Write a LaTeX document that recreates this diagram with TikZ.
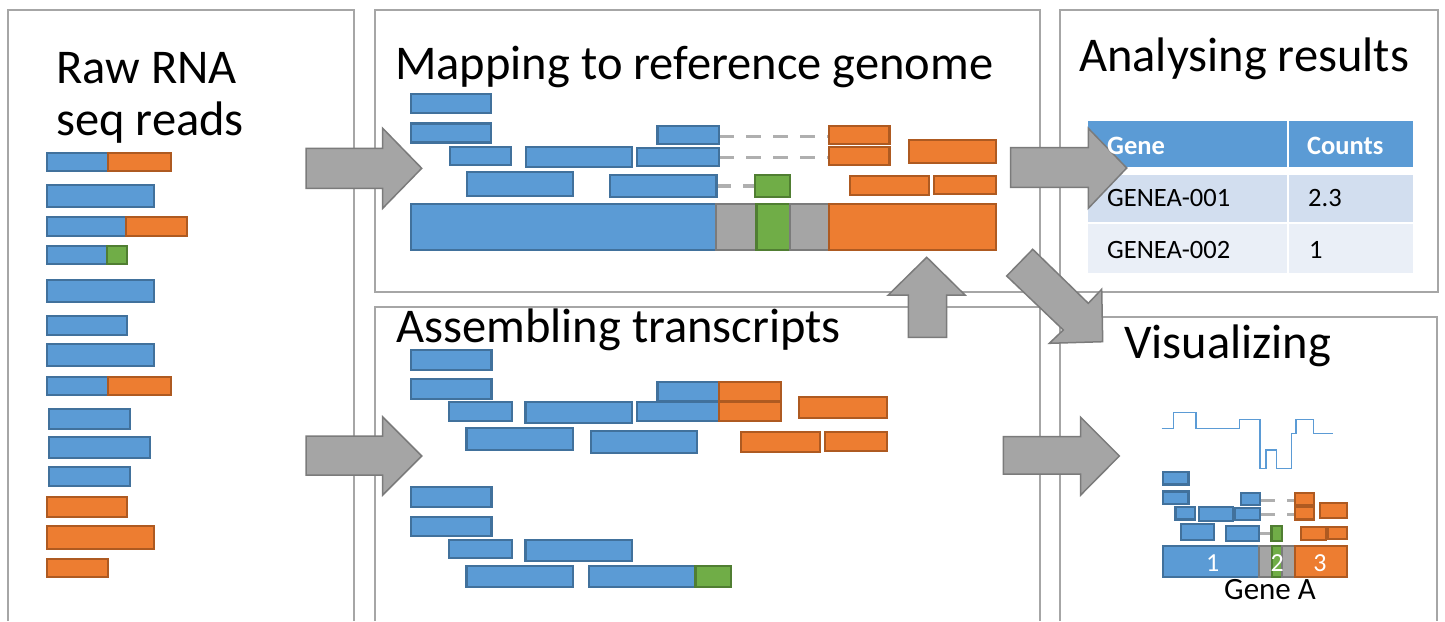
\documentclass[tikz,border=0pt]{standalone}
\usepackage{fontspec}
\setmainfont{Carlito}
\definecolor{cblue}{HTML}{5B9BD5}
\definecolor{cblueD}{HTML}{41719C}
\definecolor{corange}{HTML}{ED7D31}
\definecolor{corangeD}{HTML}{AE5A21}
\definecolor{cgreen}{HTML}{70AD47}
\definecolor{cgreenD}{HTML}{507E32}
\definecolor{cgrey}{HTML}{A5A5A5}
\definecolor{cgreyD}{HTML}{7B7B7B}
\definecolor{panelc}{HTML}{A6A6A6}
\definecolor{rowA}{HTML}{D2DEEF}
\definecolor{rowB}{HTML}{EAEFF7}
\definecolor{dashc}{HTML}{AFAFAF}
\tikzset{
 rb/.style={fill=cblue,draw=cblueD,line width=2.2pt},
 ro/.style={fill=corange,draw=corangeD,line width=2.2pt},
 rg/.style={fill=cgreen,draw=cgreenD,line width=2.2pt},
 rgr/.style={fill=cgrey,draw=cgreyD,line width=2.2pt},
 panel/.style={draw=panelc,line width=2.2pt},
 bigarrow/.style={fill=cgrey,draw=cgreyD,line width=1.5pt,line join=miter},
 gapline/.style={draw=dashc,line width=3.5pt,dash pattern=on 15pt off 12pt},
 head/.style={font=\fontsize{48.5}{58}\selectfont,inner sep=0pt,anchor=base west},
 cell/.style={font=\fontsize{26.5}{31}\selectfont,inner sep=0pt,anchor=base west},
 num/.style={font=\fontsize{26}{30}\selectfont,text=white,inner sep=0pt},
}
\newcommand{\mapreads}{%
 \draw[gapline] (308.3,42.5) -- (418,42.5);
 \draw[gapline] (308.3,63.3) -- (418,63.3);
 \draw[gapline] (305.4,92) -- (344,92);
 \draw[rb] (0,0) rectangle (80,19);
 \draw[rb] (0,29.5) rectangle (80,48.5);
 \draw[rb] (246.5,31.7) rectangle (308.3,50);
 \draw[ro] (418,32) rectangle (478.5,50);
 \draw[rb] (39,52.7) rectangle (100,71);
 \draw[rb] (114.7,52.7) rectangle (220.8,73.3);
 \draw[rb] (226.3,53.7) rectangle (308.3,72);
 \draw[ro] (418,52.7) rectangle (478.5,71);
 \draw[ro] (497.7,46) rectangle (584.8,69.3);
 \draw[rb] (55.8,78) rectangle (161.9,101.7);
 \draw[rb] (198.9,81) rectangle (305.4,102.7);
 \draw[rg] (344,81) rectangle (378.6,102.7);
 \draw[ro] (438.8,82) rectangle (517.9,101.3);
 \draw[ro] (523,82) rectangle (584.8,100);
 \draw[rb] (0,110.3) rectangle (305,156);
 \draw[rgr] (305,110.3) rectangle (345.4,156);
 \draw[rg] (345.4,110.3) rectangle (378.6,156);
 \draw[rgr] (378.6,110.3) rectangle (418,156);
 \draw[ro] (418,110.3) rectangle (584.8,156);
}
\begin{document}
\begin{tikzpicture}[x=1pt,y=-1pt]
\useasboundingbox (0,0) rectangle (1445,621);
\fill[white] (0,0) rectangle (1445,621);
% panels
\draw[panel] (8,621) -- (8,10) -- (354,10) -- (354,621);
\draw[panel] (375,10) rectangle (1040,292);
\draw[panel] (375,621) -- (375,307) -- (1040,307) -- (1040,621);
\draw[panel] (1060,10) rectangle (1438,292);
\draw[panel] (1060,621) -- (1060,317) -- (1437,317) -- (1437,621);
% headings
\node[head] (t1) at (56,83) {Raw RNA};
\node[head] (t1b) at (56,135) {seq reads};
\node[head] (t2) at (395,79) {Mapping to reference genome};
\node[head] (t3) at (1079,71) {Analysing results};
\node[head] (t4) at (396,342) {Assembling transcripts};
\node[head] (t5) at (1124,358) {Visualizing};
% raw reads
\draw[rb] (47,152.7) rectangle (108,170.7); \draw[ro] (108,152.7) rectangle (171,170.7);
\draw[rb] (47,185) rectangle (154,206.7);
\draw[rb] (47,217.3) rectangle (126,236); \draw[ro] (126,217.3) rectangle (187,236);
\draw[rb] (47,246) rectangle (107,264.3); \draw[rg] (107,246) rectangle (127,264.3);
\draw[rb] (47,280) rectangle (154,301.7);
\draw[rb] (47,315.7) rectangle (127,335);
\draw[rb] (47,344) rectangle (154,365.7);
\draw[rb] (47,376.7) rectangle (108,395); \draw[ro] (108,376.7) rectangle (171,395);
\draw[rb] (49,409) rectangle (130,428.7);
\draw[rb] (49,437) rectangle (150,458);
\draw[rb] (49,466.7) rectangle (130,486);
\draw[ro] (47,497) rectangle (127,516.7);
\draw[ro] (47,525.7) rectangle (154,549);
\draw[ro] (47,559) rectangle (108,577);
% mapping panel
\begin{scope}[shift={(411,94)}]
\mapreads
\end{scope}
% assembling panel
\draw[rb] (411,350) rectangle (491.4,370);
\draw[rb] (411,379.3) rectangle (491.4,399.3);
\draw[rb] (657.5,381.7) rectangle (719.3,400.7); \draw[ro] (719.3,381.7) rectangle (780.7,400.7);
\draw[rb] (449.3,402.3) rectangle (511.8,420.7);
\draw[rb] (525.4,402.3) rectangle (631.8,423.3);
\draw[rb] (637,402.3) rectangle (719.3,420.7); \draw[ro] (719.3,402.3) rectangle (780.7,420.7);
\draw[ro] (799.3,396.7) rectangle (887.1,418.3);
\draw[rb] (466.4,428.3) rectangle (572.9,450);
\draw[rb] (590.7,430.7) rectangle (697.1,452.7);
\draw[ro] (740.7,432.3) rectangle (820,451.7);
\draw[ro] (824.6,432.3) rectangle (887.1,451);
\draw[rb] (411,487.3) rectangle (491.4,506.7);
\draw[rb] (411,516.7) rectangle (491.4,536);
\draw[rb] (449.3,540) rectangle (511.8,558.3);
\draw[rb] (525.4,540) rectangle (631.8,560.7);
\draw[rb] (466.4,565.7) rectangle (572.9,587.3);
\draw[rb] (589,565.7) rectangle (695.4,587.3); \draw[rg] (695.4,565.7) rectangle (730.7,587.3);
% table
\fill[cblue] (1088,121) rectangle (1286.7,167.3);
\fill[cblue] (1289.3,121) rectangle (1413,167.3);
\fill[rowA] (1088,175) rectangle (1286.7,221.7);
\fill[rowA] (1289.3,175) rectangle (1413,221.7);
\fill[rowB] (1088,224) rectangle (1286.7,273.3);
\fill[rowB] (1289.3,224) rectangle (1413,273.3);
% visualizing
\draw[cblue,line width=1.5pt] (1161.7,428.3) -- (1173.3,428.3) -- (1173.3,412.7) -- (1196,412.7) -- (1196,428.3) -- (1239.3,428.3) -- (1239.3,419.3) -- (1260,419.3) -- (1260,468.3) -- (1266,468.3) -- (1266,450) -- (1276.7,450) -- (1276.7,468.3) -- (1291.7,468.3) -- (1291.7,433.3) -- (1296,433.3) -- (1296,419.3) -- (1313.3,419.3) -- (1313.3,433.3) -- (1333.3,433.3);
\begin{scope}[shift={(1163.3,471.7)},xscale=0.3145,yscale=0.673]
\mapreads
\end{scope}
\node[num] (n1) at (1212.7,563) {1};
\node[num] (n2) at (1277.3,563) {2};
\node[num] (n3) at (1320,563) {3};
\node[font=\fontsize{31}{36}\selectfont,inner sep=0pt] (ga) at (1270,590) {Gene A};
% big arrows
\draw[bigarrow] (306,148.3) -- (382.7,148.3) -- (382.7,128.3) -- (421.7,168.3) -- (382.7,208.3) -- (382.7,188.3) -- (306,188.3) -- cycle;
\draw[bigarrow] (306,436) -- (382.7,436) -- (382.7,417) -- (421.7,456) -- (382.7,495) -- (382.7,475) -- (306,475) -- cycle;
\draw[bigarrow] (1010.7,147.7) -- (1088.3,147.7) -- (1088.3,128.3) -- (1126.7,168) -- (1088.3,208.3) -- (1088.3,187.3) -- (1010.7,187.3) -- cycle;
\draw[bigarrow] (1003.3,436.7) -- (1080.7,436.7) -- (1080.7,417.3) -- (1119.3,456) -- (1080.7,495) -- (1080.7,474) -- (1003.3,474) -- cycle;
\draw[bigarrow] (908.3,337.3) -- (908.3,295) -- (888.3,295) -- (926.7,257.3) -- (965,295) -- (946.7,295) -- (946.7,337.3) -- cycle;
\draw[bigarrow] (1006.7,276) -- (1032.7,249.3) -- (1088.3,303.3) -- (1101.7,289.3) -- (1102.7,341.7) -- (1049.3,343.3) -- (1063.3,330) -- cycle;
% table text
\node[cell,font=\fontsize{26.5}{31}\bfseries\selectfont,text=white] (h1) at (1107,154) {Gene};
\node[cell,font=\fontsize{26.5}{31}\bfseries\selectfont,text=white] (h2) at (1307,154) {Counts};
\node[cell] (c11) at (1107,206) {GENEA-001};
\node[cell] (c12) at (1308,206) {2.3};
\node[cell] (c21) at (1107,258.3) {GENEA-002};
\node[cell] (c22) at (1309,258.3) {1};
\end{tikzpicture}
\end{document}
